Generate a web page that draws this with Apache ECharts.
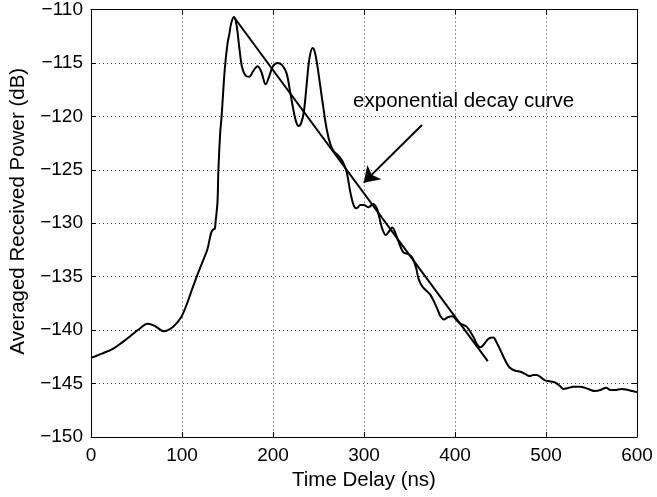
<!DOCTYPE html>
<html>
<head>
<meta charset="utf-8">
<script src="https://cdn.jsdelivr.net/npm/echarts@6/dist/echarts.min.js"></script>
<style>
  html, body { margin: 0; padding: 0; background: #fff; }
  #chart { width: 657px; height: 497px; }
</style>
</head>
<body>
<div id="chart"></div>
<script>
// averaged power delay profile
const delayNs = [
  0, 12, 25, 35, 44, 53, 62, 70, 80, 90, 99, 106, 111, 117, 124, 128, 132, 134, 136, 137,
  139, 140, 142, 143.5, 147, 150, 152, 154, 157, 160, 163, 166, 170, 174, 178, 183, 187, 192, 196, 200,
  205, 210, 215, 219, 222, 225, 228, 231, 234, 237, 240, 243.5, 246, 249, 252, 255, 259, 263, 267, 271,
  274, 277, 281, 285, 289, 292, 296, 300, 305, 310, 314, 317, 320, 324, 328, 331, 334, 337, 343, 349,
  353, 357, 360, 364, 373, 380, 384, 388, 392, 397, 402, 406, 413, 420, 424, 428, 432, 437, 442, 446,
  450, 455, 460, 466, 472, 477, 482, 486, 490, 494, 499, 505, 510, 515, 519, 525, 530, 537, 543, 549,
  554, 560, 566, 571, 576, 583, 590, 595, 600
];
const powerDb = [
  -142.6, -142.2, -141.7, -141.1, -140.5, -139.9, -139.4, -139.6, -140.1, -139.7, -138.8, -137.4, -136.2, -134.8, -133.3, -132.4, -130.9, -130.6, -130.5, -129.8,
  -128.0, -125.0, -121.5, -120.0, -115.6, -113.2, -112.3, -111.3, -110.7, -111.5, -113.6, -115.4, -116.2, -116.3, -115.8, -115.3, -115.8, -117.0, -116.2, -115.3,
  -115.0, -115.2, -116.0, -117.8, -119.2, -120.4, -120.9, -120.6, -119.5, -117.0, -114.6, -113.6, -114.0, -115.4, -117.2, -119.0, -121.2, -122.6, -123.3, -123.6,
  -123.9, -124.3, -125.2, -127.1, -128.4, -128.6, -128.3, -128.3, -128.5, -128.2, -128.6, -129.5, -130.5, -131.1, -130.7, -130.4, -130.8, -131.5, -132.7, -132.9,
  -133.2, -134.1, -135.2, -135.9, -136.7, -137.9, -138.7, -139.0, -138.8, -138.7, -139.1, -139.4, -139.7, -140.6, -141.3, -141.6, -141.3, -140.8, -140.7, -141.2,
  -141.9, -142.8, -143.5, -143.8, -143.9, -144.1, -144.3, -144.2, -144.2, -144.4, -144.7, -144.8, -144.9, -145.2, -145.5, -145.4, -145.3, -145.3, -145.4, -145.6,
  -145.7, -145.6, -145.4, -145.6, -145.6, -145.5, -145.6, -145.7, -145.8
];

// fitted exponential decay (straight line in dB)
const decayX = [157, 436];
const decayY = [-110.7, -142.9];

// annotation
const arrowFrom = [363.7, -120.8];
const arrowTo = [299.7, -126.2];
const noteText = 'exponential decay curve';
const notePos = [288, -118.6];

const font = 'Liberation Sans, Arial, Helvetica, sans-serif';
const minus = v => String(v).replace('-', '\u2212');

const chart = echarts.init(document.getElementById('chart'));

const gridLine = { show: true, lineStyle: { color: '#333', width: 1, type: [1, 3] } };
const frameLine = { show: true, onZero: false, lineStyle: { color: '#000', width: 1 } };
const innerTick = { show: true, inside: true, length: 5, lineStyle: { color: '#000' } };

const option = {
  animation: false,
  backgroundColor: '#fff',
  textStyle: { fontFamily: font },
  grid: { left: 90, right: 20, top: 6, bottom: 60 },
  xAxis: [
    {
      type: 'value',
      min: 0,
      max: 600,
      interval: 100,
      name: 'Time Delay (ns)',
      nameLocation: 'middle',
      nameGap: 30,
      nameTextStyle: { fontSize: 20.5, color: '#000', fontFamily: font },
      axisLine: frameLine,
      axisTick: innerTick,
      axisLabel: { fontSize: 19, color: '#000', margin: 9, fontFamily: font },
      splitLine: gridLine,
    },
    {
      type: 'value',
      position: 'top',
      min: 0,
      max: 600,
      interval: 100,
      axisLine: frameLine,
      axisTick: innerTick,
      axisLabel: { show: false },
      splitLine: { show: false },
    },
  ],
  yAxis: [
    {
      type: 'value',
      min: -150,
      max: -110,
      interval: 5,
      name: 'Averaged Received Power (dB)',
      nameLocation: 'middle',
      nameGap: 62,
      nameTextStyle: { fontSize: 20.5, color: '#000', fontFamily: font, padding: [0, 0, 0, 24] },
      axisLine: frameLine,
      axisTick: innerTick,
      axisLabel: { fontSize: 19, color: '#000', margin: 8, fontFamily: font, formatter: minus },
      splitLine: gridLine,
    },
    {
      type: 'value',
      position: 'right',
      min: -150,
      max: -110,
      interval: 5,
      axisLine: frameLine,
      axisTick: innerTick,
      axisLabel: { show: false },
      splitLine: { show: false },
    },
  ],
  series: [
    {
      type: 'line',
      data: delayNs.map((x, i) => [x, powerDb[i]]),
      showSymbol: false,
      smooth: 0.35,
      lineStyle: { color: '#000', width: 2 },
      z: 3,
    },
    {
      type: 'line',
      data: decayX.map((x, i) => [x, decayY[i]]),
      showSymbol: false,
      lineStyle: { color: '#000', width: 2 },
      z: 3,
    },
    {
      type: 'lines',
      coordinateSystem: 'cartesian2d',
      data: [{ coords: [arrowFrom, arrowTo] }],
      symbol: ['none', 'arrow'],
      symbolSize: [8, 15],
      lineStyle: { color: '#000', width: 2, opacity: 1 },
      z: 4,
    },
    {
      type: 'scatter',
      data: [notePos],
      symbolSize: 0,
      silent: true,
      itemStyle: { opacity: 1 },
      label: {
        show: true,
        formatter: noteText,
        position: [0, 0],
        align: 'left',
        verticalAlign: 'middle',
        fontSize: 20.5,
        color: '#000',
        opacity: 1,
        fontFamily: font,
      },
      z: 5,
    },
  ],
};

chart.setOption(option);
</script>
</body>
</html>
